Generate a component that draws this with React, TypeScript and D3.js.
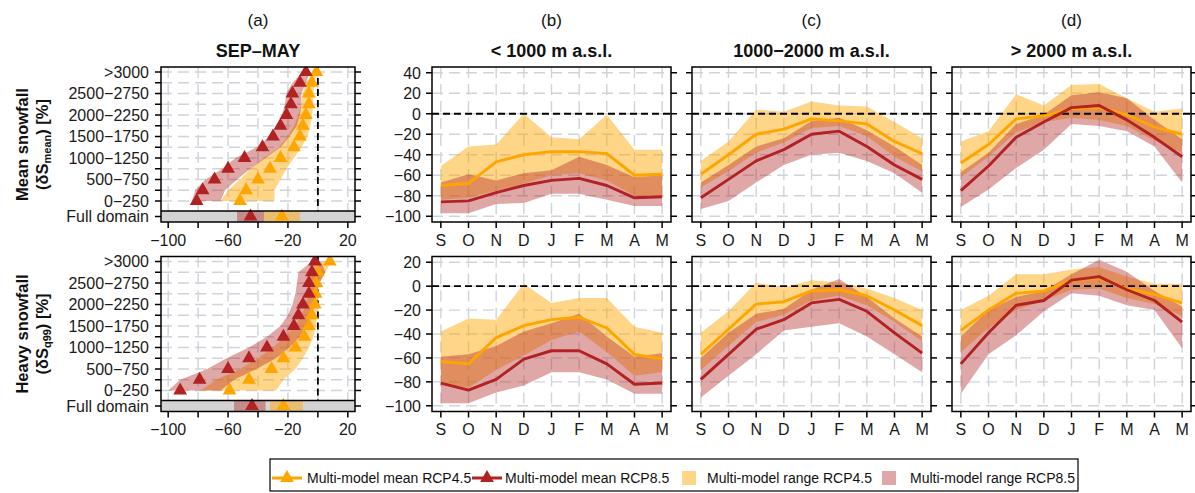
import React from "react";
import * as d3 from "d3";

const FONT = "'Liberation Sans', Arial, Helvetica, sans-serif";

// ---------- categories / labels ----------
const months = ["S", "O", "N", "D", "J", "F", "M", "A", "M"];
const bands = [
  "0−250", "250−500", "500−750", "750−1000", "1000−1250", "1250−1500", "1500−1750",
  "1750−2000", "2000−2250", "2250−2500", "2500−2750", "2750−3000", ">3000",
];
const panelTitles = ["< 1000 m a.s.l.", "1000−2000 m a.s.l.", "> 2000 m a.s.l."];
const panelLetters = ["(b)", "(c)", "(d)"];
const yTicksMean = [-100, -80, -60, -40, -20, 0, 20, 40];
const yTicksQ99 = [-100, -80, -60, -40, -20, 0, 20];
const xTicksA = [-100, -80, -60, -40, -20, 0, 20];
const xLabelsA = [-100, -60, -20, 20];

// ---------- panel (a): SEP–MAY, by elevation band ----------
// Mean snowfall
const aMeanTri45 = [-52, -48, -40, -32, -25, -16, -12, -10, -8, -6, -6, -4, -1];
const aMeanTri85 = [-81, -77, -69, -60, -49, -37, -30, -25, -21, -18, -17, -12, -8];
const aMeanLo45 = [-65, -60, -52, -45, -36, -26, -20, -16, -13, -11, -10, -8, -3];
const aMeanHi45 = [-29, -29, -25, -21, -16, -11, -7, -5, -4, -3, -3, -2, 0];
const aMeanLo85 = [-84, -82, -75, -64, -55, -41, -32, -27, -24, -22, -21, -17, -10];
const aMeanHi85 = [-65, -62, -54, -45, -35, -25, -19, -14, -12, -11, -11, -8, -5];
const aMeanFull45 = [-24, -36, -12]; // mean, lo, hi
const aMeanFull85 = [-45, -54, -36];
// Heavy snowfall
const aQ99Tri45 = [-59, -46, -31, -23, -15, -9, -6, -4, -2, -1.5, -1, 0, 8];
const aQ99Tri85 = [-92, -79, -60, -46, -34, -23, -16, -13, -10, -6, -6, -4, -2];
const aQ99Lo45 = [-78, -68, -52, -40, -30, -22, -15, -11, -8, -7, -6, -4, 3];
const aQ99Hi45 = [-28, -23, -15, -10, -6, -3, -1, -1, 0, 0, 1, 5, 9];
const aQ99Lo85 = [-100, -92, -74, -61, -46, -34, -25, -20, -17, -15, -14, -13, -4];
const aQ99Hi85 = [-65, -56, -41, -28, -19, -12, -8, -4, -2, -1, 1, 5, 2];
const aQ99Full45 = [-23, -32, -10];
const aQ99Full85 = [-44, -56, -35];

// ---------- panels (b)-(d): monthly, mean snowfall ----------
const meanLowM45 = [-70, -68, -47, -40, -37, -37, -39, -60, -59];
const meanLowM85 = [-86, -85, -77, -70, -65, -63, -70, -82, -81];
const meanLowHi45 = [-51, -32, -30, 0, -23, -25, -1, -35, -35];
const meanLowLo45 = [-84, -82, -75, -68, -60, -58, -65, -80, -80];
const meanLowHi85 = [-67, -59, -65, -58, -55, -42, -50, -62, -60];
const meanLowLo85 = [-97, -97, -88, -87, -78, -78, -84, -90, -90];

const meanMidM45 = [-59, -40, -20, -15, -5, -7, -10, -27, -39];
const meanMidM85 = [-82, -64, -46, -35, -20, -17, -32, -50, -64];
const meanMidHi45 = [-46, -27, 4, 2, 12, 8, 7, -8, -24];
const meanMidLo45 = [-72, -56, -38, -28, -14, -12, -22, -42, -56];
const meanMidHi85 = [-67, -50, -32, -24, -7, -4, -16, -32, -50];
const meanMidLo85 = [-93, -85, -67, -50, -40, -38, -46, -58, -77];

const meanHighM45 = [-48, -30, -5, -2, 5, 6, -1, -13, -20];
const meanHighM85 = [-75, -51, -23, -8, 6, 8, -6, -23, -42];
const meanHighHi45 = [-27, -17, 19, 8, 28, 29, 15, 2, 5];
const meanHighLo45 = [-62, -42, -18, -8, -4, -6, -12, -26, -38];
const meanHighHi85 = [-57, -38, -10, -1, 18, 21, 15, -6, -25];
const meanHighLo85 = [-91, -74, -53, -35, -10, -12, -17, -32, -67];

// ---------- panels (b)-(d): monthly, heavy snowfall ----------
const q99LowM45 = [-63, -65, -43, -33, -28, -26, -35, -57, -61];
const q99LowM85 = [-81, -87, -78, -61, -54, -54, -65, -82, -81];
const q99LowHi45 = [-38, -27, -28, 2, -14, -10, -10, -34, -39];
const q99LowLo45 = [-82, -85, -70, -58, -45, -38, -55, -75, -72];
const q99LowHi85 = [-59, -57, -50, -38, -31, -23, -42, -59, -56];
const q99LowLo85 = [-98, -98, -89, -83, -72, -72, -78, -90, -90];

const q99MidM45 = [-57, -36, -15, -13, -4, -3, -8, -20, -33];
const q99MidM85 = [-78, -57, -36, -28, -14, -11, -21, -39, -56];
const q99MidHi45 = [-39, -21, 3, -1, 5, 3, -2, -10, -20];
const q99MidLo45 = [-70, -50, -30, -24, -12, -8, -16, -30, -46];
const q99MidHi85 = [-60, -39, -23, -19, -3, 6, -9, -27, -42];
const q99MidLo85 = [-93, -75, -57, -37, -34, -31, -42, -57, -72];

const q99HighM45 = [-37, -20, -6, -4, 5, 7, -2, -7, -14];
const q99HighM85 = [-65, -39, -16, -12, 5, 8, -3, -12, -30];
const q99HighHi45 = [-20, -8, 10, 10, 14, 16, 8, 2, 2];
const q99HighLo45 = [-55, -35, -20, -12, -3, -2, -10, -15, -25];
const q99HighHi85 = [-42, -20, -9, -4, 10, 22, 12, -4, -17];
const q99HighLo85 = [-90, -57, -41, -21, -6, -8, -16, -20, -52];

const legendLabels = [
  "Multi-model mean RCP4.5",
  "Multi-model mean RCP8.5",
  "Multi-model range RCP4.5",
  "Multi-model range RCP8.5",
];

// ---------- styling / layout ----------
const C45 = "#FFA500";
const C85 = "#B22222";
const OP45 = 0.47;
const OP85 = 0.4;
const GRID = "#cfd3da";
const ROW_TOP = [67, 256.5];
const BOX_H = 155;
const A_LEFT = 161;
const A_W = 194;
const P_LEFTS = [432, 692, 952];
const P_W = 239;
const TICK = 6;
const TICK_FS = 16;

const tri = d3.symbol().type(d3.symbolTriangle).size(82)();

type Series = { m45: number[]; lo45: number[]; hi45: number[]; m85: number[]; lo85: number[]; hi85: number[] };

const monthly: Series[][] = [
  [
    { m45: meanLowM45, lo45: meanLowLo45, hi45: meanLowHi45, m85: meanLowM85, lo85: meanLowLo85, hi85: meanLowHi85 },
    { m45: meanMidM45, lo45: meanMidLo45, hi45: meanMidHi45, m85: meanMidM85, lo85: meanMidLo85, hi85: meanMidHi85 },
    { m45: meanHighM45, lo45: meanHighLo45, hi45: meanHighHi45, m85: meanHighM85, lo85: meanHighLo85, hi85: meanHighHi85 },
  ],
  [
    { m45: q99LowM45, lo45: q99LowLo45, hi45: q99LowHi45, m85: q99LowM85, lo85: q99LowLo85, hi85: q99LowHi85 },
    { m45: q99MidM45, lo45: q99MidLo45, hi45: q99MidHi45, m85: q99MidM85, lo85: q99MidLo85, hi85: q99MidHi85 },
    { m45: q99HighM45, lo45: q99HighLo45, hi45: q99HighHi45, m85: q99HighM85, lo85: q99HighLo85, hi85: q99HighHi85 },
  ],
];

const aRows = [
  { tri45: aMeanTri45, tri85: aMeanTri85, lo45: aMeanLo45, hi45: aMeanHi45, lo85: aMeanLo85, hi85: aMeanHi85, full45: aMeanFull45, full85: aMeanFull85 },
  { tri45: aQ99Tri45, tri85: aQ99Tri85, lo45: aQ99Lo45, hi45: aQ99Hi45, lo85: aQ99Lo85, hi85: aQ99Hi85, full45: aQ99Full45, full85: aQ99Full85 },
];

function yScaleFor(row: number) {
  const top = ROW_TOP[row];
  return row === 0
    ? d3.scaleLinear().domain([-105.6, 45.6]).range([top + BOX_H, top])
    : d3.scaleLinear().domain([-104.8, 24.8]).range([top + BOX_H, top]);
}

function MonthPanel({ col, row }: { col: number; row: number }) {
  const left = P_LEFTS[col];
  const top = ROW_TOP[row];
  const s = monthly[row][col];
  const x = d3.scaleLinear().domain([0.68, 9.32]).range([left, left + P_W]);
  const y = yScaleFor(row);
  const ticks = row === 0 ? yTicksMean : yTicksQ99;
  const idx = months.map((_, i) => i);
  const area = (lo: number[], hi: number[]) =>
    d3.area<number>().x((i) => x(i + 1)).y0((i) => y(lo[i])).y1((i) => y(hi[i]))(idx) || "";
  const line = (v: number[]) => d3.line<number>().x((i) => x(i + 1)).y((i) => y(v[i]))(idx) || "";
  const clipId = `clip-${row}-${col}`;
  const bottom = top + BOX_H;
  return (
    <g>
      <defs>
        <clipPath id={clipId}>
          <rect x={left} y={top} width={P_W} height={BOX_H} />
        </clipPath>
      </defs>
      <g clipPath={`url(#${clipId})`}>
        {idx.map((i) => (
          <line key={"gx" + i} x1={x(i + 1)} x2={x(i + 1)} y1={top} y2={bottom} stroke={GRID} strokeWidth={1.4} strokeDasharray="11,6" />
        ))}
        {ticks.map((t) => (
          <line key={"gy" + t} x1={left} x2={left + P_W} y1={y(t)} y2={y(t)} stroke={GRID} strokeWidth={1.4} strokeDasharray="11,6" />
        ))}
        <path d={area(s.lo45, s.hi45)} fill={C45} fillOpacity={OP45} />
        <path d={area(s.lo85, s.hi85)} fill={C85} fillOpacity={OP85} />
        <line x1={left} x2={left + P_W} y1={y(0)} y2={y(0)} stroke="#000" strokeWidth={1.8} strokeDasharray="7,4" />
        <path d={line(s.m45)} fill="none" stroke={C45} strokeWidth={2.9} strokeLinejoin="round" />
        <path d={line(s.m85)} fill="none" stroke={C85} strokeWidth={2.9} strokeLinejoin="round" />
      </g>
      <rect x={left} y={top} width={P_W} height={BOX_H} fill="none" stroke="#000" strokeWidth={1.5} />
      {ticks.map((t) => (
        <g key={"ty" + t}>
          <line x1={left - TICK} x2={left} y1={y(t)} y2={y(t)} stroke="#000" strokeWidth={1.5} />
          <line x1={left + P_W} x2={left + P_W + TICK} y1={y(t)} y2={y(t)} stroke="#000" strokeWidth={1.5} />
          {col === 0 && (
            <text x={left - 11} y={y(t)} dy="0.36em" textAnchor="end" fontSize={TICK_FS} fontFamily={FONT} fill="#1a1a1a">
              {t < 0 ? "−" + Math.abs(t) : String(t)}
            </text>
          )}
        </g>
      ))}
      {idx.map((i) => (
        <g key={"tx" + i}>
          <line x1={x(i + 1)} x2={x(i + 1)} y1={bottom} y2={bottom + TICK} stroke="#000" strokeWidth={1.5} />
          <text x={x(i + 1)} y={bottom + 18} dy="0.36em" textAnchor="middle" fontSize={TICK_FS} fontFamily={FONT} fill="#1a1a1a">
            {months[i]}
          </text>
        </g>
      ))}
    </g>
  );
}

function ElevPanel({ row }: { row: number }) {
  const top = ROW_TOP[row];
  const bottom = top + BOX_H;
  const d = aRows[row];
  const x = d3.scaleLinear().domain([-104.8, 24.8]).range([A_LEFT, A_LEFT + A_W]);
  const yb = d3.scaleLinear().domain([0, 12]).range([top + 134, top + 5]);
  const stripTop = top + 144;
  const stripY = top + 149.5;
  const idx = bands.map((_, i) => i);
  const area = (lo: number[], hi: number[]) =>
    d3.area<number>().y((i) => yb(i)).x0((i) => x(lo[i])).x1((i) => x(hi[i]))(idx) || "";
  const clipId = `clipA-${row}`;
  return (
    <g>
      <defs>
        <clipPath id={clipId}>
          <rect x={A_LEFT} y={top} width={A_W} height={stripTop - top} />
        </clipPath>
      </defs>
      <g clipPath={`url(#${clipId})`}>
        {xTicksA.map((t) => (
          <line key={"gx" + t} x1={x(t)} x2={x(t)} y1={top} y2={stripTop} stroke={GRID} strokeWidth={1.4} strokeDasharray="11,6" />
        ))}
        {idx.map((i) => (
          <line key={"gy" + i} x1={A_LEFT} x2={A_LEFT + A_W} y1={yb(i)} y2={yb(i)} stroke={GRID} strokeWidth={1.4} strokeDasharray="11,6" />
        ))}
        <path d={area(d.lo45, d.hi45)} fill={C45} fillOpacity={OP45} />
        <path d={area(d.lo85, d.hi85)} fill={C85} fillOpacity={OP85} />
        <line x1={x(0)} x2={x(0)} y1={top} y2={stripTop} stroke="#000" strokeWidth={1.8} strokeDasharray="7,4" />
        {idx.map((i) => (
          <path key={"t45" + i} d={tri} transform={`translate(${x(d.tri45[i])},${yb(i)})`} fill={C45} />
        ))}
        {idx.map((i) => (
          <path key={"t85" + i} d={tri} transform={`translate(${x(d.tri85[i])},${yb(i)})`} fill={C85} />
        ))}
      </g>
      <rect x={A_LEFT} y={stripTop} width={A_W} height={bottom - stripTop} fill="#d3d3d3" />
      <rect x={x(d.full45[1])} y={stripTop} width={x(d.full45[2]) - x(d.full45[1])} height={bottom - stripTop} fill={C45} fillOpacity={OP45} />
      <rect x={x(d.full85[1])} y={stripTop} width={x(d.full85[2]) - x(d.full85[1])} height={bottom - stripTop} fill={C85} fillOpacity={OP85} />
      <path d={tri} transform={`translate(${x(d.full45[0])},${stripY})`} fill={C45} />
      <path d={tri} transform={`translate(${x(d.full85[0])},${stripY})`} fill={C85} />
      <line x1={A_LEFT} x2={A_LEFT + A_W} y1={stripTop} y2={stripTop} stroke="#000" strokeWidth={1.5} />
      <rect x={A_LEFT} y={top} width={A_W} height={BOX_H} fill="none" stroke="#000" strokeWidth={1.5} />
      {idx.map((i) => (
        <g key={"ty" + i}>
          <line x1={A_LEFT - TICK} x2={A_LEFT} y1={yb(i)} y2={yb(i)} stroke="#000" strokeWidth={1.5} />
          <line x1={A_LEFT + A_W} x2={A_LEFT + A_W + TICK} y1={yb(i)} y2={yb(i)} stroke="#000" strokeWidth={1.5} />
          {i % 2 === 0 && (
            <text x={A_LEFT - 12} y={yb(i)} dy="0.36em" textAnchor="end" fontSize={TICK_FS} fontFamily={FONT} fill="#1a1a1a">
              {bands[i]}
            </text>
          )}
        </g>
      ))}
      <line x1={A_LEFT - TICK} x2={A_LEFT} y1={stripY} y2={stripY} stroke="#000" strokeWidth={1.5} />
      <line x1={A_LEFT + A_W} x2={A_LEFT + A_W + TICK} y1={stripY} y2={stripY} stroke="#000" strokeWidth={1.5} />
      <text x={A_LEFT - 12} y={stripY} dy="0.36em" textAnchor="end" fontSize={TICK_FS} fontFamily={FONT} fill="#1a1a1a">
        Full domain
      </text>
      {xTicksA.map((t) => (
        <line key={"tx" + t} x1={x(t)} x2={x(t)} y1={bottom} y2={bottom + TICK} stroke="#000" strokeWidth={1.5} />
      ))}
      {xLabelsA.map((t) => (
        <text key={"lx" + t} x={x(t)} y={bottom + 18} dy="0.36em" textAnchor="middle" fontSize={TICK_FS} fontFamily={FONT} fill="#1a1a1a">
          {t < 0 ? "−" + Math.abs(t) : String(t)}
        </text>
      ))}
    </g>
  );
}

function YTitle({ row, line1, sub }: { row: number; line1: string; sub: string }) {
  const cy = ROW_TOP[row] + BOX_H / 2;
  return (
    <g fontFamily={FONT} fontWeight="bold" fontSize={16.5} fill="#111">
      <text transform={`translate(28,${cy}) rotate(-90)`} textAnchor="middle">
        {line1}
      </text>
      <text transform={`translate(48,${cy}) rotate(-90)`} textAnchor="middle">
        (δS<tspan fontSize={11} dy={3}>{sub}</tspan>
        <tspan dy={-3}>) [%]</tspan>
      </text>
    </g>
  );
}

export default function App() {
  const titleY = 57;
  const letterY = 26;
  const aCenter = A_LEFT + A_W / 2;
  const legY = 478;
  return (
    <svg width={1195} height={493} style={{ position: "absolute", left: 0, top: 0, background: "#fff" }}>
      <rect x={0} y={0} width={1195} height={493} fill="#fff" />
      <text x={aCenter} y={letterY} textAnchor="middle" fontSize={17} fontFamily={FONT} fill="#111">(a)</text>
      <text x={aCenter} y={titleY} textAnchor="middle" fontSize={18} fontWeight="bold" fontFamily={FONT} fill="#111">SEP–MAY</text>
      {P_LEFTS.map((l, i) => (
        <g key={"hdr" + i}>
          <text x={l + P_W / 2} y={letterY} textAnchor="middle" fontSize={17} fontFamily={FONT} fill="#111">{panelLetters[i]}</text>
          <text x={l + P_W / 2} y={titleY} textAnchor="middle" fontSize={18} fontWeight="bold" fontFamily={FONT} fill="#111">{panelTitles[i]}</text>
        </g>
      ))}
      <YTitle row={0} line1="Mean snowfall" sub="mean" />
      <YTitle row={1} line1="Heavy snowfall" sub="q99" />
      {[0, 1].map((r) => (
        <ElevPanel key={"a" + r} row={r} />
      ))}
      {[0, 1].map((r) => [0, 1, 2].map((c) => <MonthPanel key={`p${r}${c}`} row={r} col={c} />))}
      <g fontFamily={FONT} fontSize={14} fill="#111">
        <rect x={270} y={459} width={808} height={32} fill="#fff" stroke="#000" strokeWidth={1.2} />
        <line x1={272} x2={302} y1={legY} y2={legY} stroke={C45} strokeWidth={3} />
        <path d={tri} transform={`translate(287,${legY})`} fill={C45} />
        <text x={307} y={legY} dy="0.36em">{legendLabels[0]}</text>
        <line x1={472} x2={502} y1={legY} y2={legY} stroke={C85} strokeWidth={3} />
        <path d={tri} transform={`translate(487,${legY})`} fill={C85} />
        <text x={505} y={legY} dy="0.36em">{legendLabels[1]}</text>
        <rect x={682} y={legY - 7} width={14} height={14} fill={C45} fillOpacity={OP45} />
        <text x={707} y={legY} dy="0.36em">{legendLabels[2]}</text>
        <rect x={882} y={legY - 7} width={14} height={14} fill={C85} fillOpacity={OP85} />
        <text x={910} y={legY} dy="0.36em">{legendLabels[3]}</text>
      </g>
    </svg>
  );
}
